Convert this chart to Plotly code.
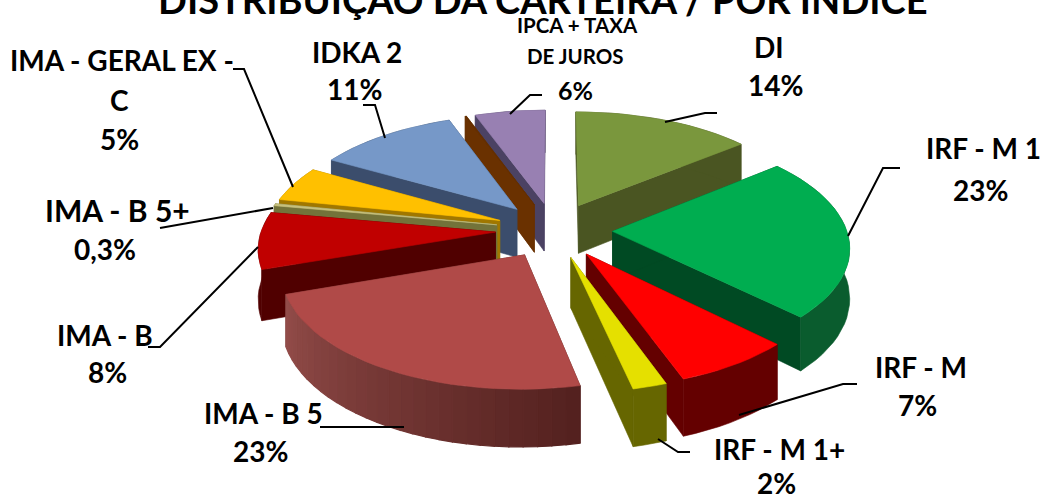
import math
import plotly.graph_objects as go

# ---- data ----
categories = ["DI", "IRF - M 1", "IRF - M", "IRF - M 1+", "IMA - B 5", "IMA - B",
              "IMA - B 5+", "IMA - GERAL EX - C", "IDKA 2", "(sem rótulo)", "IPCA + TAXA DE JUROS"]
values = [14, 23, 7, 2, 23, 8, 0.3, 5, 11, 0.1, 5.5]

# ---- styles ----
top_colors = ["#7a973d", "#00ad50", "#ff0000", "#e5e000", "#b04a48", "#c00000",
              "#c6c07c", "#ffc000", "#7698c8", "#653000", "#9880b2"]
side_colors = ["#4a5522", "#004a23", "#640000", "#666600", "#54211f", "#500000",
               "#73733a", "#a07700", "#3b4d6c", "#6a3100", "#4b4263"]
arc_start = ["#4a5522", "#0a5c2e", "#640000", "#666600", "#54211f", "#500000",
             "#73733a", "#a07700", "#3b4d6c", "#6a3100", "#4b4263"]
arc_end = ["#4a5522", "#0a5c2e", "#640000", "#666600", "#924c49", "#500000",
           "#73733a", "#a07700", "#3b4d6c", "#6a3100", "#4b4263"]

PULL, CX, CY, A, B, K, H = 0.25, 554, 230, 234, 111, 0.124, 49


def project(gx, gy, z=0.0):
    p = 1 / (1 - K * gy)
    return CX + A * gx * p, CY + (B * gy + H * z) * p


def hex_mix(c1, c2, t):
    a = [int(c1[i:i + 2], 16) for i in (1, 3, 5)]
    b = [int(c2[i:i + 2], 16) for i in (1, 3, 5)]
    return "rgb(%d,%d,%d)" % tuple(round(u + (v - u) * t) for u, v in zip(a, b))


def polygon(points, color, width=0.6):
    return go.Scatter(x=[q[0] for q in points] + [points[0][0]],
                      y=[q[1] for q in points] + [points[0][1]],
                      mode="lines", fill="toself", fillcolor=color,
                      line=dict(color=color, width=width), hoverinfo="skip", showlegend=False)


total = sum(values)
slices, acc = [], 0.0
for i, v in enumerate(values):
    a0 = acc / total * 2 * math.pi
    acc += v
    a1 = acc / total * 2 * math.pi
    slices.append((i, a0, a1, (a0 + a1) / 2))

fig = go.Figure()
for i, a0, a1, mid in sorted(slices, key=lambda s: -math.cos(s[3])):
    ox, oy = PULL * math.sin(mid), -PULL * math.cos(mid)
    n = max(2, int((a1 - a0) / math.radians(3)) + 1)
    angs = [a0 + (a1 - a0) * j / n for j in range(n + 1)]
    rim = [(ox + math.sin(t), oy - math.cos(t)) for t in angs]
    # radial walls
    for g in (rim[-1], rim[0]):
        pts = [project(ox, oy), project(*g), project(*g, 1), project(ox, oy, 1)]
        fig.add_trace(polygon(pts, side_colors[i]))
    # rim wall
    if arc_start[i] == arc_end[i]:
        pts = [project(*g) for g in rim] + [project(*g, 1) for g in reversed(rim)]
        fig.add_trace(polygon(pts, arc_start[i]))
    else:
        for j in range(n):
            pts = [project(*rim[j]), project(*rim[j + 1]), project(*rim[j + 1], 1), project(*rim[j], 1)]
            fig.add_trace(polygon(pts, hex_mix(arc_start[i], arc_end[i], j / max(1, n - 1)), 1.2))
    # top face
    fig.add_trace(polygon([project(ox, oy)] + [project(*g) for g in rim], top_colors[i]))

leaders = [
    ([665, 705, 717], [122, 113, 113]),
    ([848, 883, 900], [236, 168, 168]),
    ([739, 843, 857], [415, 384, 384]),
    ([658, 678, 690], [439, 452, 452]),
    ([320, 404], [427, 427]),
    ([148, 160, 258], [347, 347, 247]),
    ([160, 273], [228, 208]),
    ([233, 244, 293], [69, 69, 187]),
    ([363, 375, 385], [105, 105, 138]),
    ([510, 530, 542], [114, 95, 95]),
]
for lx, ly in leaders:
    fig.add_trace(go.Scatter(x=lx, y=ly, mode="lines", line=dict(color="black", width=2),
                             hoverinfo="skip", showlegend=False))

label_lines = [
    ("DI", 769, 47, 28), ("14%", 775, 85, 28),
    ("IRF - M 1", 983, 148, 28), ("23%", 980, 190, 28),
    ("IRF - M", 921, 367, 28), ("7%", 917, 405, 28),
    ("IRF - M 1+", 779, 449, 28), ("2%", 776, 483, 28),
    ("IMA - B 5", 263, 413, 28), ("23%", 260, 451, 28),
    ("IMA - B", 105, 335, 28), ("8%", 107, 372, 28),
    ("IMA - B 5+", 117, 210, 30), ("0,3%", 105, 249, 28),
    ("IMA - GERAL EX -", 122, 60, 28), ("C", 119, 100, 28), ("5%", 119, 139, 28),
    ("IDKA 2", 357, 52, 28), ("11%", 354, 89, 28),
    ("IPCA + TAXA", 577, 25, 20.5), ("DE JUROS", 575, 56, 20.5), ("6%", 575, 90, 25),
]
for text, x, y, size in label_lines:
    fig.add_annotation(x=x, y=y, text=text, showarrow=False, xanchor="center", yanchor="middle",
                       font=dict(family="Lato", size=size, color="black", weight="bold"))

fig.add_annotation(xref="paper", yref="paper", x=0.52, y=1 + 1 / 496, text="DISTRIBUIÇÃO DA CARTEIRA / POR ÍNDICE",
                   showarrow=False, xanchor="center", yanchor="middle",
                   font=dict(family="Lato", size=38, color="black", weight="bold"))

fig.update_layout(
    width=1045, height=496, margin=dict(l=0, r=0, t=0, b=0),
    paper_bgcolor="white", plot_bgcolor="white", showlegend=False,
    xaxis=dict(range=[0, 1045], visible=False, fixedrange=True),
    yaxis=dict(range=[496, 0], visible=False, fixedrange=True),
)
fig.write_html("out.html", config={"displayModeBar": False},
               post_script="document.body.style.margin='0';document.body.style.overflow='hidden';")
